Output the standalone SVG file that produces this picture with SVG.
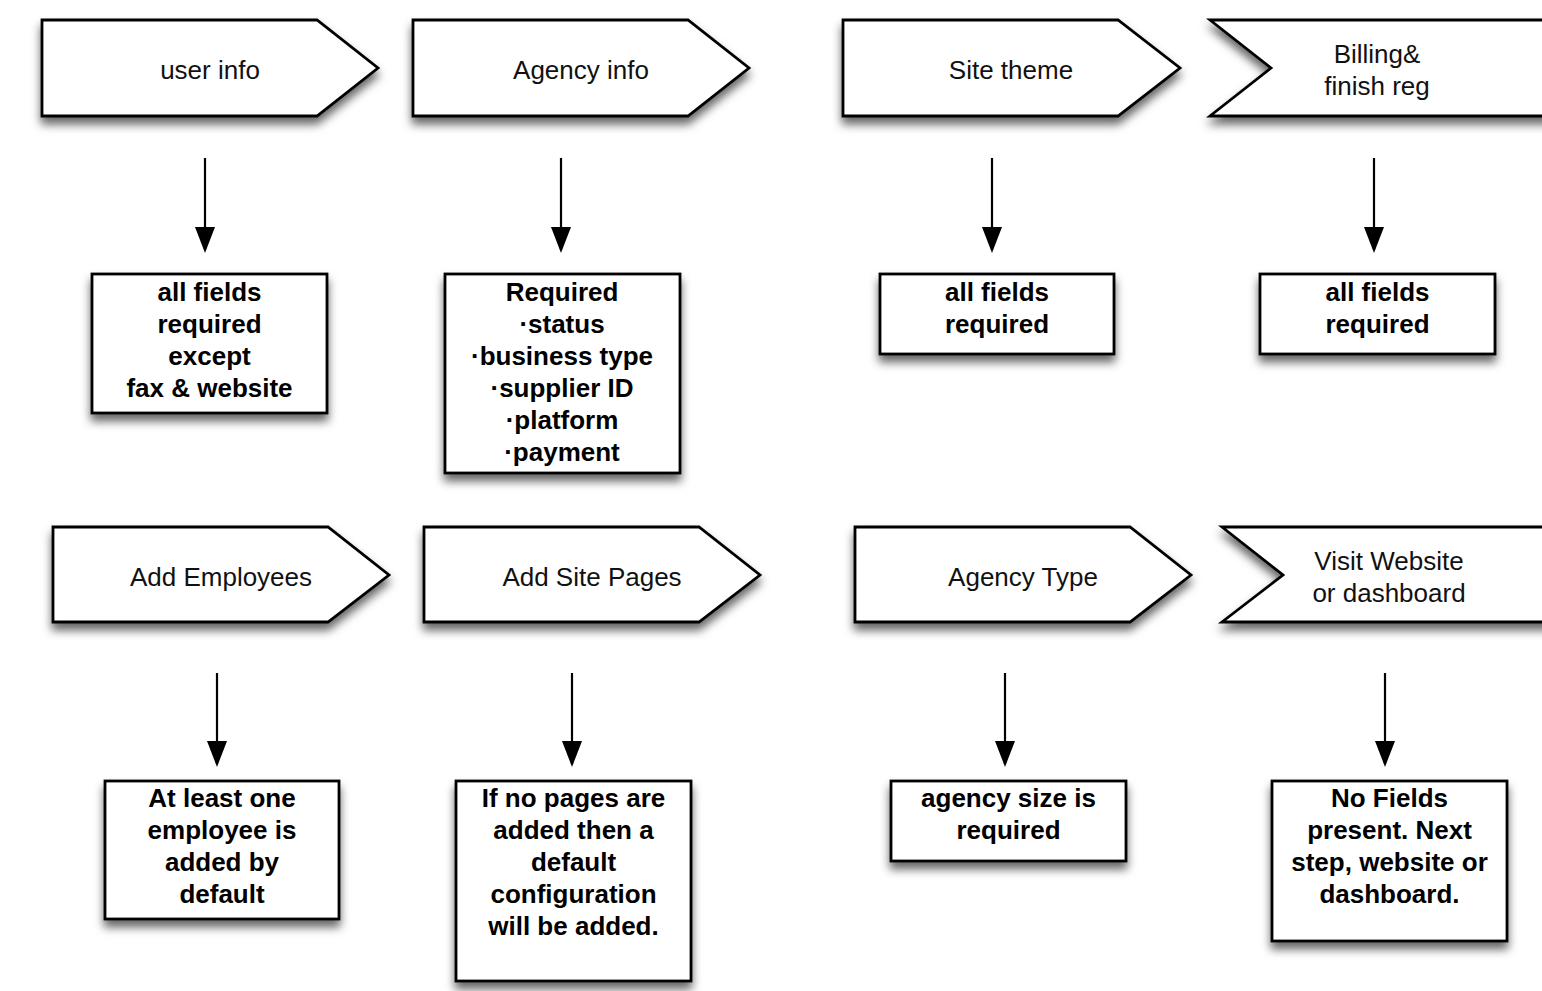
<svg xmlns="http://www.w3.org/2000/svg" width="1542" height="991" viewBox="0 0 1542 991">
<defs>
<filter id="sh" x="-10%" y="-10%" width="120%" height="135%">
<feDropShadow dx="0" dy="7" stdDeviation="5" flood-color="#000" flood-opacity="0.6"/>
</filter>
<marker id="ah" viewBox="0 0 26 20" refX="23" refY="10" markerWidth="26" markerHeight="20" markerUnits="userSpaceOnUse" orient="auto">
<path d="M0,0 L26,10 L0,20 z" fill="#000"/>
</marker>
<style>
.shape{fill:#fff;stroke:#000;stroke-width:2.8;stroke-linejoin:miter;filter:url(#sh)}
.lbl{font-family:"Liberation Sans",Arial,sans-serif;font-size:26px;fill:#111;text-anchor:middle}
.bold{font-family:"Liberation Sans",Arial,sans-serif;font-size:26px;font-weight:bold;fill:#000;text-anchor:middle}
.conn{stroke:#000;stroke-width:2.2;fill:none;marker-end:url(#ah)}
</style>
</defs>
<rect width="1542" height="991" fill="#fff"/>

<g id="connectors">
<line class="conn" x1="205" y1="158" x2="205" y2="250"/>
<line class="conn" x1="561" y1="158" x2="561" y2="250"/>
<line class="conn" x1="992" y1="158" x2="992" y2="250"/>
<line class="conn" x1="1374" y1="158" x2="1374" y2="250"/>
<line class="conn" x1="217" y1="673" x2="217" y2="764"/>
<line class="conn" x1="572" y1="673" x2="572" y2="764"/>
<line class="conn" x1="1005" y1="673" x2="1005" y2="764"/>
<line class="conn" x1="1385" y1="673" x2="1385" y2="764"/>
</g>

<g id="user-info">
<path class="shape" d="M42,20 L317,20 L378,68 L317,116 L42,116 Z"/>
<text class="lbl" x="210" y="79">user info</text>
</g>
<g id="agency-info">
<path class="shape" d="M413,20 L688,20 L749,68 L688,116 L413,116 Z"/>
<text class="lbl" x="581" y="79">Agency info</text>
</g>
<g id="site-theme">
<path class="shape" d="M843,20 L1118,20 L1180,68 L1118,116 L843,116 Z"/>
<text class="lbl" x="1011" y="79">Site theme</text>
</g>
<g id="billing">
<path class="shape" d="M1210,20 L1560,20 L1560,116 L1210,116 L1271,68 Z"/>
<text class="lbl" x="1377" y="63">Billing&amp;</text>
<text class="lbl" x="1377" y="95">finish reg</text>
</g>

<g id="user-info-note">
<rect class="shape" x="92" y="274" width="235" height="139"/>
<text class="bold" x="209.5" y="301">all fields</text>
<text class="bold" x="209.5" y="333">required</text>
<text class="bold" x="209.5" y="365">except</text>
<text class="bold" x="209.5" y="397">fax &amp; website</text>
</g>
<g id="agency-info-note">
<rect class="shape" x="445" y="274" width="235" height="199"/>
<text class="bold" x="562" y="301">Required</text>
<text class="bold" x="562" y="333">·status</text>
<text class="bold" x="562" y="365">·business type</text>
<text class="bold" x="562" y="397">·supplier ID</text>
<text class="bold" x="562" y="429">·platform</text>
<text class="bold" x="562" y="461">·payment</text>
</g>
<g id="site-theme-note">
<rect class="shape" x="880" y="274" width="234" height="80"/>
<text class="bold" x="997" y="301">all fields</text>
<text class="bold" x="997" y="333">required</text>
</g>
<g id="billing-note">
<rect class="shape" x="1260" y="274" width="235" height="80"/>
<text class="bold" x="1377.5" y="301">all fields</text>
<text class="bold" x="1377.5" y="333">required</text>
</g>

<g id="add-employees">
<path class="shape" d="M53,527 L328,527 L389,575 L328,622 L53,622 Z"/>
<text class="lbl" x="221" y="586">Add Employees</text>
</g>
<g id="add-site-pages">
<path class="shape" d="M424,527 L699,527 L760,575 L699,622 L424,622 Z"/>
<text class="lbl" x="592" y="586">Add Site Pages</text>
</g>
<g id="agency-type">
<path class="shape" d="M855,527 L1130,527 L1191,575 L1130,622 L855,622 Z"/>
<text class="lbl" x="1023" y="586">Agency Type</text>
</g>
<g id="visit-website">
<path class="shape" d="M1222,527 L1560,527 L1560,622 L1222,622 L1283,575 Z"/>
<text class="lbl" x="1389" y="570">Visit Website</text>
<text class="lbl" x="1389" y="602">or dashboard</text>
</g>

<g id="add-employees-note">
<rect class="shape" x="105" y="781" width="234" height="138"/>
<text class="bold" x="222" y="807">At least one</text>
<text class="bold" x="222" y="839">employee is</text>
<text class="bold" x="222" y="871">added by</text>
<text class="bold" x="222" y="903">default</text>
</g>
<g id="add-site-pages-note">
<rect class="shape" x="456" y="781" width="235" height="200"/>
<text class="bold" x="573.5" y="807">If no pages are</text>
<text class="bold" x="573.5" y="839">added then a</text>
<text class="bold" x="573.5" y="871">default</text>
<text class="bold" x="573.5" y="903">configuration</text>
<text class="bold" x="573.5" y="935">will be added.</text>
</g>
<g id="agency-type-note">
<rect class="shape" x="891" y="781" width="235" height="80"/>
<text class="bold" x="1008.5" y="807">agency size is</text>
<text class="bold" x="1008.5" y="839">required</text>
</g>
<g id="visit-website-note">
<rect class="shape" x="1272" y="781" width="235" height="160"/>
<text class="bold" x="1389.5" y="807">No Fields</text>
<text class="bold" x="1389.5" y="839">present. Next</text>
<text class="bold" x="1389.5" y="871">step, website or</text>
<text class="bold" x="1389.5" y="903">dashboard.</text>
</g>
</svg>
